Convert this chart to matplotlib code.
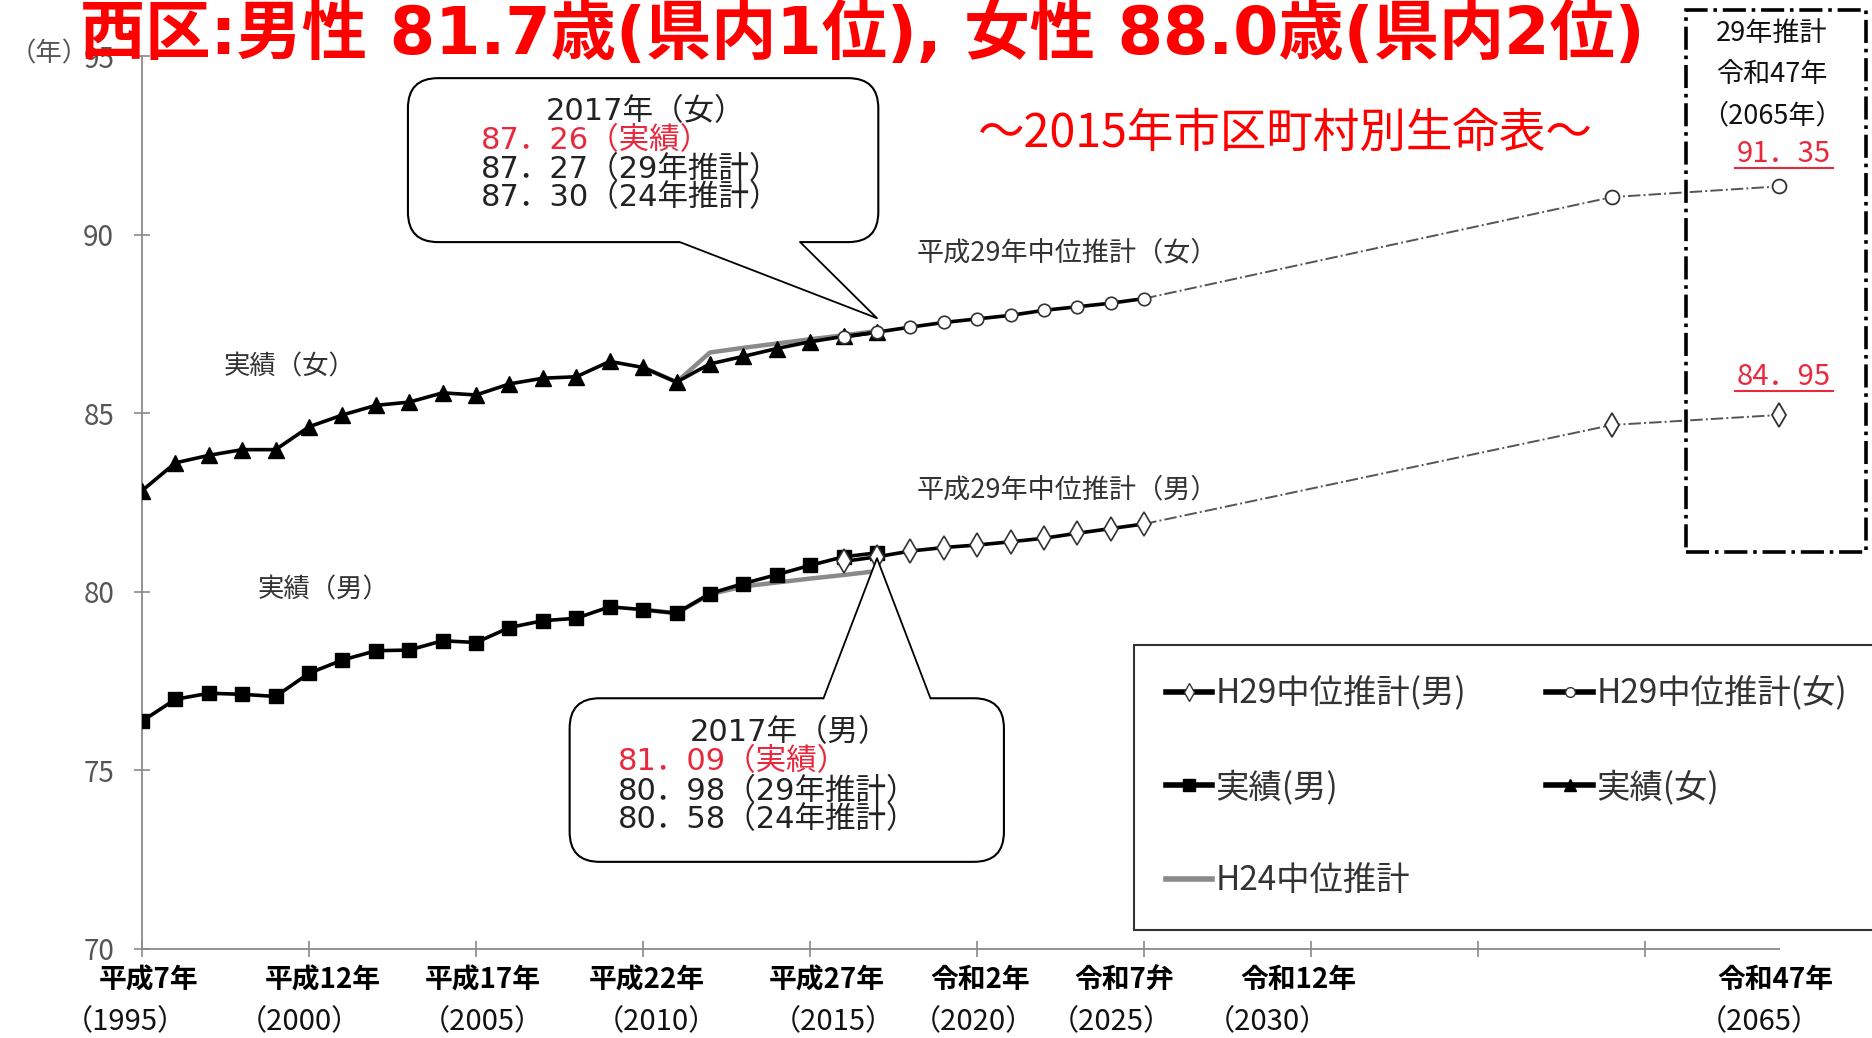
import matplotlib
matplotlib.use("Agg")
import matplotlib.pyplot as plt
from matplotlib.patches import FancyBboxPatch, Polygon, Rectangle
from matplotlib.lines import Line2D

plt.rcParams['font.family'] = ['Noto Sans CJK JP', 'DejaVu Sans']
WIDE = ['DejaVu Sans', 'Noto Sans CJK JP']   # wide digits, CJK falls back

# ---- data ----
actual_years = list(range(1995, 2018))
female_actual = [82.83, 83.61, 83.82, 83.98, 83.98, 84.62, 84.95, 85.22, 85.31, 85.57,
                 85.51, 85.82, 85.98, 86.02, 86.45, 86.28, 85.87, 86.38, 86.59, 86.81,
                 87.00, 87.15, 87.26]
male_actual = [76.38, 76.99, 77.16, 77.13, 77.07, 77.72, 78.09, 78.35, 78.37, 78.63,
               78.58, 79.00, 79.19, 79.26, 79.58, 79.50, 79.40, 79.95, 80.23, 80.48,
               80.74, 80.98, 81.09]

h29_years = list(range(2016, 2026))
female_h29 = [87.13, 87.27, 87.41, 87.54, 87.64, 87.74, 87.88, 87.98, 88.08, 88.21]
male_h29 = [80.85, 80.98, 81.14, 81.24, 81.31, 81.40, 81.50, 81.64, 81.77, 81.90]

far_years = [2025, 2060, 2065]
female_far = [88.21, 91.05, 91.35]
male_far = [81.90, 84.67, 84.95]

h24_years = list(range(2010, 2018))
female_h24 = [86.28, 85.87, 86.70, 86.83, 86.95, 87.07, 87.18, 87.30]
male_h24 = [79.50, 79.40, 79.93, 80.15, 80.26, 80.37, 80.47, 80.58]

tick_years = [1995, 2000, 2005, 2010, 2015, 2020, 2025, 2030, 2065]
era_labels = ['平成7年', '平成12年', '平成17年', '平成22年', '平成27年',
              '令和2年', '令和7弁', '令和12年', '令和47年']
# small nudges of the label blocks, as in the original (category units)
era_dx = [0.2, 0.4, 0.2, 0.1, 0.5, 0.1, -0.6, -0.4, -0.1]
year_dx = [-0.5, -0.3, 0.2, 0.4, 0.7, -0.1, -1.0, -1.3, -0.6]


def pos(year):
    # category axis: every year up to 2030, then compressed to 2065
    return year - 1995 if year <= 2030 else 49 - (2065 - year)


W, H = 1872, 1038
fig = plt.figure(figsize=(W / 100, H / 100), dpi=100)
ax = fig.add_axes([142 / W, 1 - 949 / H, (1779 - 142) / W, (949 - 56) / H])
ax.set_xlim(0, 49)
ax.set_ylim(70, 95)

GREY = '#8a8a8a'

# H24 projection (grey)
ax.plot([pos(y) for y in h24_years], female_h24, color=GREY, lw=3.2, zorder=2)
ax.plot([pos(y) for y in h24_years], male_h24, color=GREY, lw=3.2, zorder=2)

# actual
ax.plot([pos(y) for y in actual_years], female_actual, color='black', lw=2.6,
        marker='^', markersize=11, zorder=3)
ax.plot([pos(y) for y in actual_years], male_actual, color='black', lw=2.6,
        marker='s', markersize=10, zorder=3)

# H29 projection
ax.plot([pos(y) for y in h29_years], female_h29, color='black', lw=2.6, marker='o',
        markersize=9, mfc='white', mec='#333', mew=1.2, zorder=4)
ax.plot([pos(y) for y in h29_years], male_h29, color='black', lw=2.6, marker='d',
        markersize=12, mfc='white', mec='#333', mew=1.2, zorder=4)
ax.plot([pos(y) for y in far_years], female_far, color='#555', lw=1.4, ls='-.', zorder=2)
ax.plot([pos(y) for y in far_years], male_far, color='#555', lw=1.4, ls='-.', zorder=2)
ax.plot([pos(y) for y in far_years[1:]], female_far[1:], ls='none', marker='o',
        markersize=10, mfc='white', mec='#333', mew=1.3, zorder=4, clip_on=False)
ax.plot([pos(y) for y in far_years[1:]], male_far[1:], ls='none', marker='d',
        markersize=12, mfc='white', mec='#333', mew=1.3, zorder=4, clip_on=False)

# axes styling
for s in ['top', 'right']:
    ax.spines[s].set_visible(False)
for s in ['left', 'bottom']:
    ax.spines[s].set_color(GREY)
    ax.spines[s].set_linewidth(1.3)
ax.set_yticks([70, 75, 80, 85, 90, 95])
ax.set_xticks(range(0, 46, 5))
ax.set_xticklabels([])
ax.tick_params(axis='both', direction='inout', length=12, width=1.2, color=GREY)
ax.tick_params(axis='y', labelsize=20, labelcolor='#555', pad=14)

for yr, lab, dx1, dx2 in zip(tick_years, era_labels, era_dx, year_dx):
    ax.text(pos(yr) + dx1, -0.035, lab, transform=ax.get_xaxis_transform(),
            ha='center', va='center', fontsize=20, fontweight='bold', color='black')
    ax.text(pos(yr) + dx2, -0.082, f'（{yr}）', transform=ax.get_xaxis_transform(),
            ha='center', va='center', fontsize=21, color='#111')


def fx(px):
    return px / W


def fy(py):
    return 1 - py / H


fig.text(fx(10), fy(54), '（年）', fontsize=19, color='#555', ha='left', va='center')

# series labels
TXT = '#333'
fig.text(fx(224), fy(367), '実績（女）', fontsize=19, color=TXT, va='center')
fig.text(fx(258), fy(590), '実績（男）', fontsize=19, color=TXT, va='center')
fig.text(fx(917), fy(253), '平成29年中位推計（女）', fontsize=19.5, color=TXT, va='center')
fig.text(fx(917), fy(490), '平成29年中位推計（男）', fontsize=19.5, color=TXT, va='center')


def callout(x0, x1, y0, y1, b0, b1, tip, bottom):
    box = FancyBboxPatch((x0, y0), x1 - x0, y1 - y0,
                         boxstyle='round,pad=0,rounding_size=0.9',
                         mutation_aspect=0.935, fc='white', ec='black', lw=1.5,
                         zorder=6, clip_on=False)
    ax.add_patch(box)
    edge = y0 if bottom else y1
    inner = edge + (0.15 if bottom else -0.15)
    poly = Polygon([(b0, inner), (b0, edge), tip, (b1, edge), (b1, inner)],
                   closed=True, fc='white', ec='none', zorder=7, clip_on=False)
    ax.add_patch(poly)
    ax.plot([b0, tip[0], b1], [edge, tip[1], edge], color='black', lw=1.3,
            zorder=8, clip_on=False)


RED = '#e8283c'
callout(7.96, 22.04, 89.79, 94.38, 16.1, 19.7, (pos(2017), female_actual[-1] + 0.4), True)
callout(12.8, 25.8, 72.44, 77.02, 20.4, 23.6, (pos(2017), male_actual[-1] - 0.15), False)

fs_c = 22
callout_lines = [
    (546, 112, '2017年（女）', '#222'),
    (481, 141, f'{female_actual[-1]:.2f}'.replace('.', '．') + '（実績）', RED),
    (481, 170, f'{female_h29[1]:.2f}'.replace('.', '．') + '（29年推計）', '#222'),
    (481, 198, f'{female_h24[-1]:.2f}'.replace('.', '．') + '（24年推計）', '#222'),
    (690, 733, '2017年（男）', '#222'),
    (618, 762, f'{male_actual[-1]:.2f}'.replace('.', '．') + '（実績）', RED),
    (618, 792, f'{male_h29[1]:.2f}'.replace('.', '．') + '（29年推計）', '#222'),
    (618, 820, f'{male_h24[-1]:.2f}'.replace('.', '．') + '（24年推計）', '#222'),
]
for px, py, t, c in callout_lines:
    fig.text(fx(px), fy(py), t, fontsize=fs_c, color=c, va='center', zorder=10,
             family=WIDE)

# dash-dot frame around the 2065 values
frame = Rectangle((fx(1686), fy(552)), fx(1866) - fx(1686), fy(10) - fy(552),
                  transform=fig.transFigure, fill=False, ec='black', lw=2.6,
                  ls='-.', zorder=9)
fig.add_artist(frame)
for t, py in [('29年推計', 33), ('令和47年', 75), ('（2065年）', 116)]:
    fig.text(fx(1772), fy(py), t, fontsize=19.5, color='#111', ha='center', va='center')
for t, py in [(f'{female_far[-1]:.2f}'.replace('.', '．'), 154),
              (f'{male_far[-1]:.2f}'.replace('.', '．'), 377)]:
    fig.text(fx(1784), fy(py), t, fontsize=21, color=RED, ha='center', va='center')
    fig.add_artist(Line2D([fx(1735), fx(1833)], [fy(py + 14), fy(py + 14)],
                          color=RED, lw=1.5, transform=fig.transFigure))

# titles
fig.text(fx(80), fy(36), '西区:男性 81.7歳(県内1位), 女性 88.0歳(県内2位)',
         fontsize=47, fontweight='bold', color='#ff0000', ha='left', va='center',
         zorder=20, family=WIDE)
fig.text(fx(977), fy(134), '～2015年市区町村別生命表～', fontsize=33.5,
         color='#ff0000', ha='left', va='center')

# legend
handles = [
    Line2D([], [], color='black', lw=4, marker='d', markersize=9, mfc='white', mec='#333'),
    Line2D([], [], color='black', lw=4, marker='s', markersize=9),
    Line2D([], [], color=GREY, lw=4),
    Line2D([], [], color='black', lw=4, marker='o', markersize=7, mfc='white', mec='#333'),
    Line2D([], [], color='black', lw=4, marker='^', markersize=9),
]
labels = ['H29中位推計(男)', '実績(男)', 'H24中位推計', 'H29中位推計(女)', '実績(女)']
leg = ax.legend(handles, labels, ncol=2, loc='upper left',
                bbox_to_anchor=(fx(1134), fy(645)), bbox_transform=fig.transFigure,
                frameon=True, fancybox=False, edgecolor='black', fontsize=24,
                labelcolor='#333', labelspacing=1.75, handlelength=1.4,
                handletextpad=0.1, columnspacing=2.4, borderpad=0.95, borderaxespad=0)
leg.get_frame().set_linewidth(1.5)
leg.set_zorder(12)

fig.savefig('out.png', dpi=100)
